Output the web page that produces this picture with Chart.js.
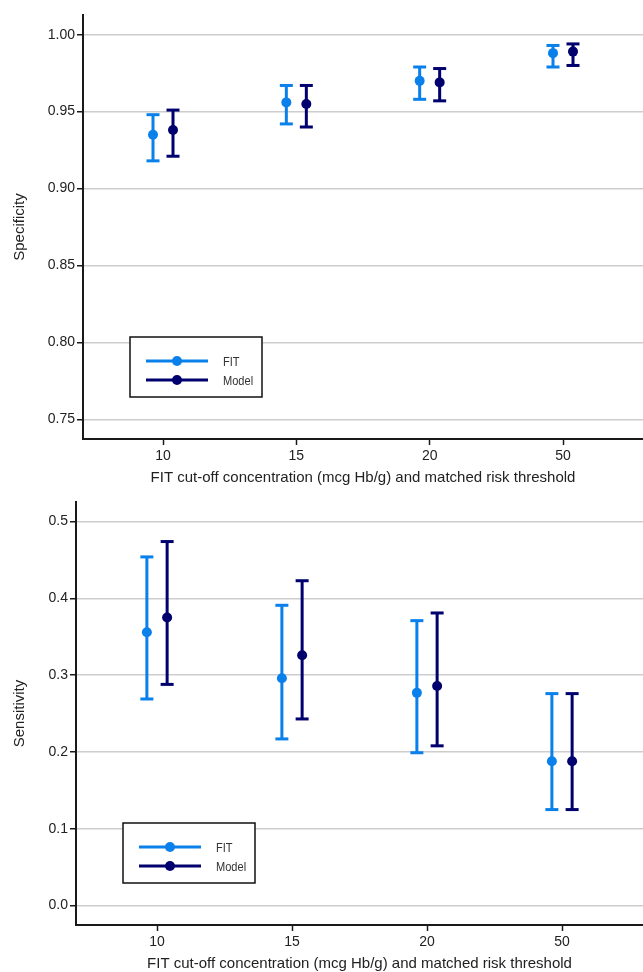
<!DOCTYPE html>
<html lang="en">
<head>
    <meta charset="UTF-8">
    <title>FIT vs Model: specificity and sensitivity</title>
    <script src="https://cdn.jsdelivr.net/npm/chart.js"></script>
    <style>
        html, body {
            margin: 0;
            padding: 0;
            background: #fff;
            overflow: hidden;
        }
        .chart-box {
            position: relative;
            width: 643px;
        }
        #specBox { height: 487px; }
        #sensBox { height: 486px; }
    </style>
</head>
<body>
<div class="chart-box" id="specBox"><canvas id="specChart"></canvas></div>
<div class="chart-box" id="sensBox"><canvas id="sensChart"></canvas></div>
<script>
    // categories (FIT cut-off, mcg Hb/g)
    const cats = ['10', '15', '20', '50'];
    const seriesNames = ['FIT', 'Model'];

    // specificity: estimate + 95% CI
    const specFit = [0.935, 0.956, 0.970, 0.988];
    const specFitLo = [0.918, 0.942, 0.958, 0.979];
    const specFitHi = [0.948, 0.967, 0.979, 0.993];
    const specModel = [0.938, 0.955, 0.969, 0.989];
    const specModelLo = [0.921, 0.940, 0.957, 0.980];
    const specModelHi = [0.951, 0.967, 0.978, 0.994];
    const specTicks = [0.75, 0.80, 0.85, 0.90, 0.95, 1.00];

    // sensitivity: estimate + 95% CI
    const sensFit = [0.356, 0.296, 0.277, 0.188];
    const sensFitLo = [0.269, 0.217, 0.199, 0.125];
    const sensFitHi = [0.454, 0.391, 0.371, 0.276];
    const sensModel = [0.375, 0.326, 0.286, 0.188];
    const sensModelLo = [0.288, 0.243, 0.208, 0.125];
    const sensModelHi = [0.474, 0.423, 0.381, 0.276];
    const sensTicks = [0.0, 0.1, 0.2, 0.3, 0.4, 0.5];

    const FIT_COLOR = '#0a80ea';
    const MODEL_COLOR = '#00006e';
    const AXIS_COLOR = '#1a1a1a';
    const DODGE = 0.075;
    const FONT = "'Liberation Sans', Arial, sans-serif";

    Chart.defaults.font.family = FONT;

    function whiskers(lo, hi, shift) {
        const pts = [];
        lo.forEach((v, i) => {
            pts.push({x: i + shift, y: v}, {x: i + shift, y: hi[i]}, {x: i + shift, y: null});
        });
        return pts;
    }

    function estimates(vals, shift) {
        return vals.map((v, i) => ({x: i + shift, y: v}));
    }

    // boxed legend sitting inside the plot, lower left
    const boxLegend = {
        id: 'boxLegend',
        afterDraw(chart) {
            const {ctx, chartArea} = chart;
            const left = chartArea.left + 47;
            const top = chartArea.bottom - 102;
            ctx.save();
            ctx.fillStyle = '#fff';
            ctx.fillRect(left, top, 132, 60);
            ctx.strokeStyle = '#111';
            ctx.lineWidth = 1.5;
            ctx.strokeRect(left, top, 132, 60);
            [FIT_COLOR, MODEL_COLOR].forEach((col, k) => {
                const y = top + 24 + k * 19;
                ctx.strokeStyle = col;
                ctx.lineWidth = 3;
                ctx.beginPath();
                ctx.moveTo(left + 16, y);
                ctx.lineTo(left + 78, y);
                ctx.stroke();
                ctx.fillStyle = col;
                ctx.beginPath();
                ctx.arc(left + 47, y, 5, 0, Math.PI * 2);
                ctx.fill();
                // condensed label text
                ctx.save();
                ctx.translate(left + 93, y + 1);
                ctx.scale(0.85, 1);
                ctx.fillStyle = '#333';
                ctx.font = "13px 'Liberation Sans', Arial, sans-serif";
                ctx.textBaseline = 'middle';
                ctx.fillText(seriesNames[k], 0, 0);
                ctx.restore();
            });
            ctx.restore();
        }
    };

    function makeChart(id, d) {
        const barStyle = (color) => ({
            type: 'line',
            borderColor: color,
            borderWidth: 3,
            pointStyle: 'line',
            pointRadius: 6.5,
            pointBorderWidth: 3,
            pointBorderColor: color,
            spanGaps: false,
            fill: false
        });
        return new Chart(document.getElementById(id), {
            type: 'scatter',
            data: {
                datasets: [
                    Object.assign({label: seriesNames[0], data: whiskers(d.fitLo, d.fitHi, -DODGE)}, barStyle(FIT_COLOR)),
                    Object.assign({label: seriesNames[1], data: whiskers(d.modelLo, d.modelHi, DODGE)}, barStyle(MODEL_COLOR)),
                    {label: seriesNames[0], data: estimates(d.fit, -DODGE), pointRadius: 5,
                        backgroundColor: FIT_COLOR, borderWidth: 0},
                    {label: seriesNames[1], data: estimates(d.model, DODGE), pointRadius: 5,
                        backgroundColor: MODEL_COLOR, borderWidth: 0}
                ]
            },
            options: {
                responsive: true,
                maintainAspectRatio: false,
                animation: false,
                events: [],
                layout: {autoPadding: false, padding: {top: 15, left: 0, right: 0, bottom: 0}},
                plugins: {
                    legend: {display: false},
                    tooltip: {enabled: false}
                },
                scales: {
                    x: {
                        type: 'linear',
                        min: -0.6,
                        max: 3.6,
                        afterBuildTicks: s => { s.ticks = cats.map((c, i) => ({value: i})); },
                        afterFit: s => { s.height = 48; },
                        ticks: {
                            callback: v => cats[v],
                            font: {size: 14},
                            color: '#222',
                            padding: 3,
                            maxRotation: 0,
                            autoSkip: false
                        },
                        grid: {drawOnChartArea: false, tickLength: 6, tickColor: AXIS_COLOR, tickWidth: 1.5},
                        border: {color: AXIS_COLOR, width: 2},
                        title: {
                            display: true,
                            text: 'FIT cut-off concentration (mcg Hb/g) and matched risk threshold',
                            font: {size: 15},
                            color: '#222',
                            padding: {top: 0, bottom: 0}
                        }
                    },
                    y: {
                        min: d.yMin,
                        max: d.yMax,
                        afterBuildTicks: s => { s.ticks = d.ticks.map(v => ({value: v})); },
                        afterFit: s => { s.width = d.axisWidth; },
                        ticks: {
                            callback: v => v.toFixed(d.decimals),
                            font: {size: 14},
                            color: '#222',
                            padding: 2
                        },
                        grid: {color: '#cdcdcd', lineWidth: 1.5, tickLength: 6, tickColor: AXIS_COLOR, tickWidth: 1.5},
                        border: {color: AXIS_COLOR, width: 2},
                        title: {
                            display: true,
                            text: d.title,
                            font: {size: 15},
                            color: '#222',
                            padding: {top: 11, bottom: 0}
                        }
                    }
                }
            },
            plugins: [boxLegend]
        });
    }

    makeChart('specChart', {
        fit: specFit, fitLo: specFitLo, fitHi: specFitHi,
        model: specModel, modelLo: specModelLo, modelHi: specModelHi,
        ticks: specTicks, decimals: 2, yMin: 0.7372, yMax: 1.0128,
        axisWidth: 83, title: 'Specificity'
    });

    makeChart('sensChart', {
        fit: sensFit, fitLo: sensFitLo, fitHi: sensFitHi,
        model: sensModel, modelLo: sensModelLo, modelHi: sensModelHi,
        ticks: sensTicks, decimals: 1, yMin: -0.0253, yMax: 0.5255,
        axisWidth: 76, title: 'Sensitivity'
    });
</script>
</body>
</html>
